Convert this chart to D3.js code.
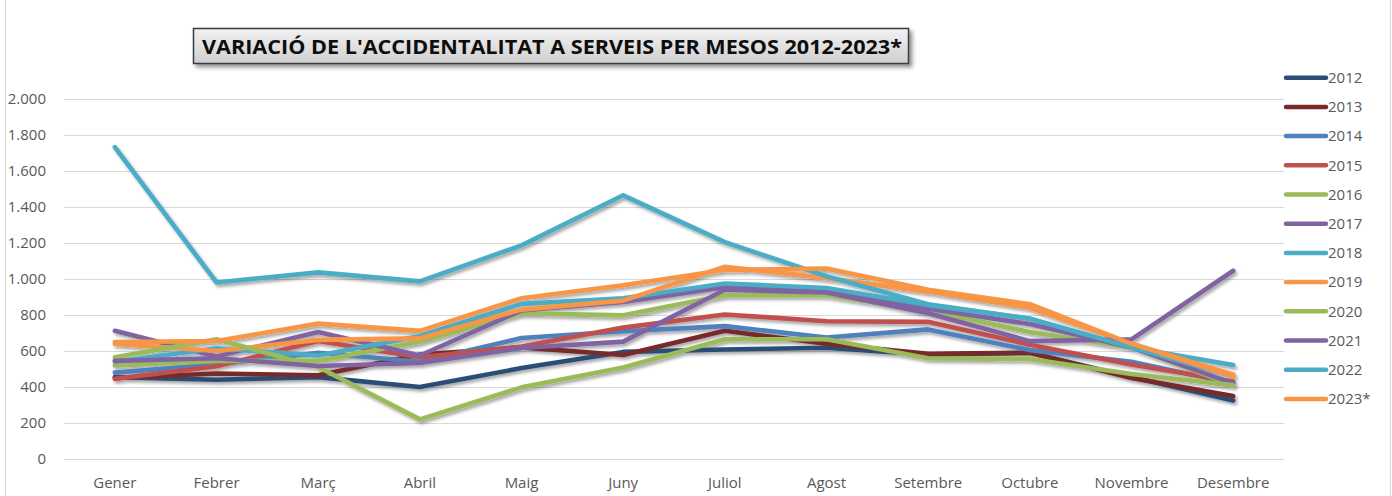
<!DOCTYPE html>
<html><head><meta charset="utf-8">
<script src="https://cdn.jsdelivr.net/npm/d3@7"></script>
<style>body{margin:0;background:#fff;} svg{display:block;}</style>
</head><body>
<script>
const months = ["Gener","Febrer","Març","Abril","Maig","Juny","Juliol","Agost","Setembre","Octubre","Novembre","Desembre"];
const years = ["2012","2013","2014","2015","2016","2017","2018","2019","2020","2021","2022","2023*"];
const colors = ["#2C4D75","#772C2A","#4F81BD","#C0504D","#9BBB59","#8064A2","#4BACC6","#F79646","#9BBB59","#8064A2","#4BACC6","#F79646"];
const yTicks = [0,200,400,600,800,1000,1200,1400,1600,1800,2000];

const v2012 = [455, 440, 455, 400, 505, 595, 608, 618, 580, 590, 455, 325];
const v2013 = [450, 475, 465, 580, 620, 578, 712, 640, 585, 590, 450, 350];
const v2014 = [480, 525, 590, 540, 672, 710, 738, 675, 720, 605, 540, 420];
const v2015 = [445, 515, 655, 565, 625, 730, 803, 765, 762, 635, 525, 430];
const v2016 = [520, 545, 545, 652, 810, 798, 910, 910, 825, 705, 620, 410];
const v2017 = [712, 570, 705, 575, 825, 872, 955, 935, 835, 750, 620, 420];
const v2018 = [540, 615, 575, 683, 862, 893, 975, 950, 855, 780, 620, 460];
const v2019 = [640, 600, 662, 670, 830, 880, 1068, 1005, 930, 840, 640, 460];
const v2020 = [565, 665, 511, 220, 398, 508, 665, 665, 560, 556, 472, 410];
const v2021 = [545, 560, 517, 533, 617, 652, 940, 925, 810, 655, 665, 1046];
const v2022 = [1733, 981, 1037, 987, 1187, 1465, 1205, 1015, 860, 780, 620, 522];
const v2023 = [650, 655, 752, 712, 893, 965, 1050, 1058, 940, 860, 640, 470];
const seriesValues = [v2012,v2013,v2014,v2015,v2016,v2017,v2018,v2019,v2020,v2021,v2022,v2023];

const W = 1392, H = 496;
const svg = d3.select("body").append("svg").attr("width", W).attr("height", H)
  .style("font-family","'Open Sans', sans-serif");

const defs = svg.append("defs");
const f = defs.append("filter").attr("id","sh").attr("x","-5%").attr("y","-20%").attr("width","110%").attr("height","140%");
f.append("feDropShadow").attr("dx",2).attr("dy",2.5).attr("stdDeviation",1.6).attr("flood-color","#000").attr("flood-opacity",0.35);
const tf = defs.append("filter").attr("id","tsh").attr("x","-5%").attr("y","-20%").attr("width","110%").attr("height","160%");
tf.append("feDropShadow").attr("dx",3).attr("dy",3).attr("stdDeviation",2).attr("flood-color","#000").attr("flood-opacity",0.45);
const g = defs.append("linearGradient").attr("id","tg").attr("x1",0).attr("y1",0).attr("x2",0).attr("y2",1);
g.append("stop").attr("offset","0%").attr("stop-color","#f2f2f2");
g.append("stop").attr("offset","100%").attr("stop-color","#cfcfcf");

// outer border
svg.append("line").attr("x1",5.5).attr("x2",5.5).attr("y1",0).attr("y2",H).attr("stroke","#d9d9d9");
svg.append("line").attr("x1",1390.5).attr("x2",1390.5).attr("y1",0).attr("y2",H).attr("stroke","#d9d9d9");

const x = d3.scaleBand().domain(months).range([64, 1284]).padding(0);
const y = d3.scaleLinear().domain([0, 2000]).range([459, 99]);

// gridlines
svg.append("g").selectAll("line").data(yTicks).join("line")
  .attr("x1", 64).attr("x2", 1284)
  .attr("y1", d => Math.round(y(d)) + 0.5).attr("y2", d => Math.round(y(d)) + 0.5)
  .attr("stroke", "#d9d9d9").attr("stroke-width", 1.2);

// y axis
const yAxis = svg.append("g").attr("transform","translate(56,0)")
  .call(d3.axisLeft(y).tickValues(yTicks).tickSize(0).tickPadding(10)
    .tickFormat(d => d3.format(",")(d).replace(/,/g, ".")));
yAxis.select(".domain").remove();
yAxis.selectAll("text").attr("font-size", 15).attr("fill", "#595959").attr("font-family","'Open Sans', sans-serif");

// x axis
const xAxis = svg.append("g").attr("transform","translate(0,474)")
  .call(d3.axisBottom(x).tickSize(0).tickPadding(3));
xAxis.select(".domain").remove();
xAxis.selectAll("text").attr("font-size", 15).attr("fill", "#595959").attr("font-family","'Open Sans', sans-serif");

// lines
const line = d3.line().x((d,i) => x(months[i]) + x.bandwidth()/2).y(d => y(d));
svg.append("g").attr("filter","url(#sh)").selectAll("path").data(seriesValues).join("path")
  .attr("d", d => line(d)).attr("fill","none")
  .attr("stroke", (d,i) => colors[i]).attr("stroke-width", 4.6)
  .attr("stroke-linejoin","round").attr("stroke-linecap","round");

// legend
const lg = svg.append("g");
years.forEach((yr, i) => {
  const cy = 77.7 + i * 29.2;
  lg.append("line").attr("x1",1286).attr("x2",1326).attr("y1",cy).attr("y2",cy)
    .attr("stroke",colors[i]).attr("stroke-width",4.5).attr("stroke-linecap","round");
  lg.append("text").attr("x",1328).attr("y",cy).attr("dy","0.35em")
    .attr("font-size",15).attr("fill","#595959").text(yr);
});

// title
const tb = svg.append("g");
tb.append("rect").attr("x",193.5).attr("y",28.5).attr("width",715).attr("height",35)
  .attr("fill","url(#tg)").attr("stroke","#3a3a3a").attr("stroke-width",1.5).attr("filter","url(#tsh)");
tb.append("text").attr("x",552).attr("y",54).attr("text-anchor","middle")
  .attr("font-size",20).attr("font-weight","bold").attr("fill","#0d0d0d")
  .attr("textLength",700).attr("lengthAdjust","spacingAndGlyphs")
  .text("VARIACIÓ DE L'ACCIDENTALITAT A SERVEIS PER MESOS 2012-2023*");
</script>
</body></html>
